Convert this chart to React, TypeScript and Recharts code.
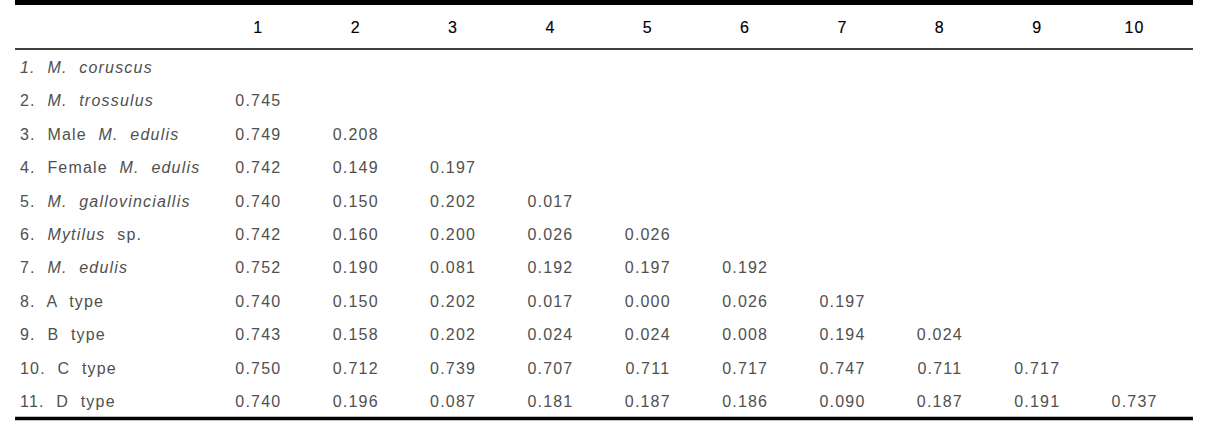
import React from "react";
import { ScatterChart, Scatter, XAxis, YAxis, ReferenceLine } from "recharts";

// column headers (taxon numbers)
const columns = ["1", "2", "3", "4", "5", "6", "7", "8", "9", "10"];

// row labels: [text, italic]
const rowLabels: [string, boolean][][] = [
  [["1. M. coruscus", true]],
  [["2. ", false], ["M. trossulus", true]],
  [["3. Male ", false], ["M. edulis", true]],
  [["4. Female ", false], ["M. edulis", true]],
  [["5. ", false], ["M. gallovinciallis", true]],
  [["6. ", false], ["Mytilus", true], [" sp.", false]],
  [["7. ", false], ["M. edulis", true]],
  [["8. A type", false]],
  [["9. B type", false]],
  [["10. C type", false]],
  [["11. D type", false]],
];

// lower-triangle genetic distances, rows 2..11
const row2 = [0.745];
const row3 = [0.749, 0.208];
const row4 = [0.742, 0.149, 0.197];
const row5 = [0.74, 0.15, 0.202, 0.017];
const row6 = [0.742, 0.16, 0.2, 0.026, 0.026];
const row7 = [0.752, 0.19, 0.081, 0.192, 0.197, 0.192];
const row8 = [0.74, 0.15, 0.202, 0.017, 0.0, 0.026, 0.197];
const row9 = [0.743, 0.158, 0.202, 0.024, 0.024, 0.008, 0.194, 0.024];
const row10 = [0.75, 0.712, 0.739, 0.707, 0.711, 0.717, 0.747, 0.711, 0.717];
const row11 = [0.74, 0.196, 0.087, 0.181, 0.187, 0.186, 0.09, 0.187, 0.191, 0.737];
const distances = [[], row2, row3, row4, row5, row6, row7, row8, row9, row10, row11];

const FONT = "'Liberation Sans', Arial, sans-serif";
const HEADER_ROW = -0.2;
const LABEL_COL = -1.5;

const headerData = columns.map((c, i) => ({ x: i + 1, y: HEADER_ROW, text: c }));
const labelData = rowLabels.map((parts, i) => ({ x: LABEL_COL, y: i + 1, parts }));
const cellData = distances.flatMap((row, r) =>
  row.map((v, c) => ({ x: c + 1, y: r + 1, text: v.toFixed(3) }))
);

const textStyle = {
  fontFamily: FONT,
  fontSize: 16,
  letterSpacing: 1.2,
  wordSpacing: 6,
};

const HeaderCell = (p: any) => (
  <text x={p.cx} y={p.cy} dy="0.36em" textAnchor="middle" fill="#000" stroke="#000" strokeWidth={0.15} style={textStyle}>
    {p.payload.text}
  </text>
);

const ValueCell = (p: any) => (
  <text x={p.cx} y={p.cy} dy="0.36em" textAnchor="middle" fill="#505050" style={textStyle}>
    {p.payload.text}
  </text>
);

const LabelCell = (p: any) => (
  <text x={p.cx + 5} y={p.cy} dy="0.36em" textAnchor="start" fill="#505050" style={{ ...textStyle, whiteSpace: "pre" }}>
    {p.payload.parts.map(([t, it]: [string, boolean], i: number) => (
      <tspan key={i} fontStyle={it ? "italic" : "normal"}>
        {t}
      </tspan>
    ))}
  </text>
);

export default function App() {
  return (
    <div style={{ width: 1220, height: 425, background: "#fff" }}>
      <style>{`body { margin: 0; }`}</style>
      <ScatterChart width={1220} height={425} margin={{ top: 0, right: 27, bottom: 0, left: 15 }}>
        <XAxis type="number" dataKey="x" domain={[-1.5, 10.6]} allowDataOverflow hide />
        <YAxis type="number" dataKey="y" domain={[-1, 11.7]} allowDataOverflow reversed hide />
        <ReferenceLine y={-0.925} stroke="#000" strokeWidth={5} ifOverflow="visible" />
        <ReferenceLine y={0.464} stroke="#000" strokeWidth={1.5} ifOverflow="visible" />
        <ReferenceLine y={11.508} stroke="#000" strokeWidth={3.5} ifOverflow="visible" />
        <Scatter data={headerData} shape={HeaderCell} isAnimationActive={false} />
        <Scatter data={labelData} shape={LabelCell} isAnimationActive={false} />
        <Scatter data={cellData} shape={ValueCell} isAnimationActive={false} />
      </ScatterChart>
    </div>
  );
}
